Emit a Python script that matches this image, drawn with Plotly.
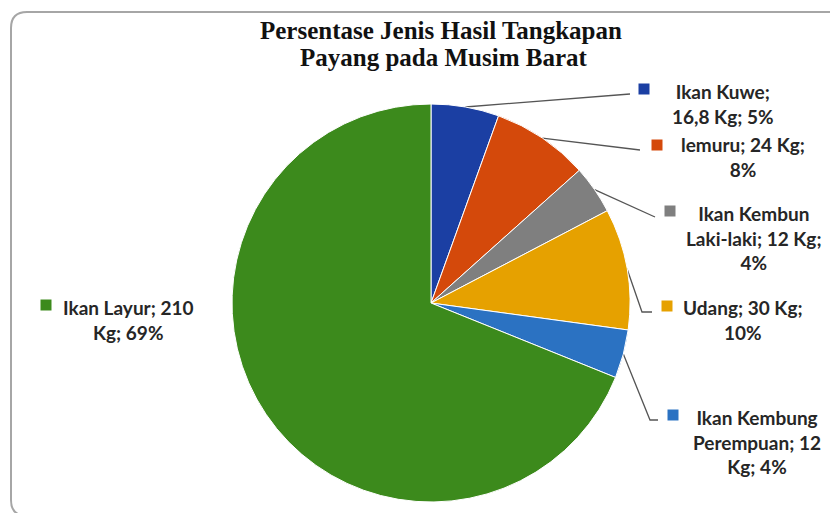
import math
import plotly.graph_objects as go

# ---- data ----
categories = ["Ikan Kuwe", "lemuru", "Ikan Kembun Laki-laki", "Udang",
              "Ikan Kembung Perempuan", "Ikan Layur"]
values_kg = [16.8, 24, 12, 30, 12, 210]
label_texts = [
    "Ikan Kuwe;<br>16,8 Kg; 5%",
    "lemuru; 24 Kg;<br>8%",
    "Ikan Kembun<br>Laki-laki; 12 Kg;<br>4%",
    "Udang; 30 Kg;<br>10%",
    "Ikan Kembung<br>Perempuan; 12<br>Kg; 4%",
    "Ikan Layur; 210<br>Kg; 69%",
]
colors = ["#1b3fa3", "#d4490b", "#7f7f7f", "#e6a100", "#2b72c2", "#3c8a1c"]
title_lines = ["Persentase Jenis Hasil Tangkapan", "Payang pada Musim Barat"]

# ---- layout (screen-pixel space; page body has an 8px margin) ----
W, H = 838, 513
OFF = 8
CX, CY, R = 431, 303, 199
label_centers = [(723, 104), (743, 157), (754, 238), (743, 320), (757, 442), (128, 320)]
key_centers = [(644, 89), (657, 145), (670, 211), (667, 306), (673, 415), (46, 305)]
title_centers = [(441, 30), (444, 57)]
# leader line route after leaving the pie edge (None = no line)
leader_routes = [
    [(630, 94)],
    [(640, 150)],
    [(655, 217)],
    [(642, 312), (652, 312)],
    [(650, 420), (658, 420)],
    None,
]

fig = go.Figure()

fig.add_trace(go.Pie(
    labels=categories, values=values_kg, sort=False, direction="clockwise",
    rotation=0, textinfo="none", hoverinfo="label+value+percent",
    marker=dict(colors=colors, line=dict(color="white", width=1)),
    domain=dict(x=[(CX - OFF - R) / W, (CX - OFF + R) / W],
                y=[(H - (CY - OFF) - R) / H, (H - (CY - OFF) + R) / H]),
    showlegend=False,
))

# leader lines from the middle of each slice edge
total = sum(values_kg)
cum = 0.0
for v, route in zip(values_kg, leader_routes):
    mid = (cum + v / 2) / total * 2 * math.pi
    cum += v
    if route is None:
        continue
    sx = CX + R * math.sin(mid)
    sy = CY - R * math.cos(mid)
    xs = [sx] + [p[0] for p in route]
    ys = [sy] + [p[1] for p in route]
    fig.add_trace(go.Scatter(x=xs, y=ys, mode="lines",
                             line=dict(color="#555555", width=1.3),
                             hoverinfo="skip", showlegend=False))

# legend keys
fig.add_trace(go.Scatter(
    x=[k[0] for k in key_centers], y=[k[1] for k in key_centers], mode="markers",
    marker=dict(symbol="square", size=11, color=colors, line=dict(width=0)),
    hoverinfo="skip", showlegend=False))

for txt, (lx, ly) in zip(label_texts, label_centers):
    fig.add_annotation(x=lx, y=ly, xref="x", yref="y", text=txt, showarrow=False,
                       xanchor="center", yanchor="middle", align="center",
                       font=dict(family="Lato", size=19, color="#262626", weight="bold"))

for txt, (tx, ty) in zip(title_lines, title_centers):
    fig.add_annotation(x=tx, y=ty, xref="x", yref="y", text=f"<b>{txt}</b>",
                       showarrow=False, xanchor="center", yanchor="middle",
                       font=dict(family="Liberation Serif", size=25, color="#111111"))

# rounded chart border
x0, y0, x1, y1, r = 11, 12, 852, 516, 16
path = (f"M {x0+r},{y0} L {x1-r},{y0} Q {x1},{y0} {x1},{y0+r} L {x1},{y1-r} "
        f"Q {x1},{y1} {x1-r},{y1} L {x0+r},{y1} Q {x0},{y1} {x0},{y1-r} "
        f"L {x0},{y0+r} Q {x0},{y0} {x0+r},{y0} Z")
fig.add_shape(type="path", path=path, xref="x", yref="y",
              line=dict(color="#a6a6a6", width=2), layer="below")

fig.update_layout(
    width=W, height=H, margin=dict(l=0, r=0, t=0, b=0),
    paper_bgcolor="white", plot_bgcolor="rgba(0,0,0,0)",
    xaxis=dict(range=[OFF, W + OFF], visible=False, domain=[0, 1], fixedrange=True),
    yaxis=dict(range=[H + OFF, OFF], visible=False, domain=[0, 1], fixedrange=True),
)

fig.write_html("out.html")
